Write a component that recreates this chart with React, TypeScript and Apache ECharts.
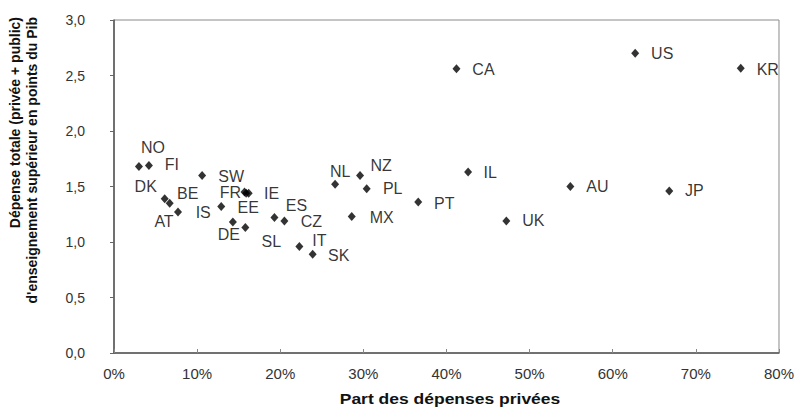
import React, { useEffect, useRef } from "react";
import * as echarts from "echarts";

// Country codes
const countries = [
  "NO", "FI", "DK", "BE", "AT", "SW", "IS", "FR", "EE", "IE", "DE", "SL",
  "ES", "CZ", "IT", "SK", "NL", "NZ", "PL", "MX", "PT", "IL", "CA", "UK",
  "AU", "US", "JP", "KR",
];
// Part des dépenses privées (%)
const privateShare = [
  3.0, 4.2, 6.1, 6.7, 7.7, 10.6, 12.9, 15.7, 15.9, 16.2, 14.3, 15.8,
  19.3, 20.5, 22.3, 23.9, 26.6, 29.6, 30.4, 28.6, 36.6, 42.6, 41.2, 47.2,
  54.9, 62.7, 66.8, 75.4,
];
// Dépense totale en points de PIB
const totalSpending = [
  1.68, 1.69, 1.39, 1.35, 1.27, 1.6, 1.32, 1.45, 1.44, 1.44, 1.18, 1.13,
  1.22, 1.19, 0.96, 0.89, 1.52, 1.6, 1.48, 1.23, 1.36, 1.63, 2.56, 1.19,
  1.5, 2.7, 1.46, 2.565,
];

// label placement (style only)
const labelOffsets: Record<string, [number, number]> = {
  NO: [14, -19], FI: [23, -1], DK: [-19, -12], BE: [18, -10], AT: [-14, 9],
  SW: [29, 1], IS: [-18, 6], FR: [-14, 0], EE: [2, 14], IE: [23, 0],
  DE: [-4, 12], SL: [26, 14], ES: [22, -12], CZ: [27, 1], IT: [20, -6],
  SK: [26, 1], NL: [5, -13], NZ: [21, -10], PL: [26, 0], MX: [30, 1],
  PT: [26, 1], IL: [22, 0], CA: [27, 1], UK: [27, 0], AU: [27, 0],
  US: [27, 0], JP: [25, 0], KR: [27, 1],
};

const xTitle = "Part des dépenses privées";
const yTitle1 = "Dépense totale (privée + public)";
const yTitle2 = "d'enseignement supérieur en points du Pib";

const FONT = "'Liberation Sans', Arial, sans-serif";

export default function App() {
  const ref = useRef<HTMLDivElement>(null);
  useEffect(() => {
    if (!ref.current) return;
    const chart = echarts.init(ref.current, undefined, { renderer: "svg" });
    const data = countries.map((c, i) => ({
      name: c,
      value: [privateShare[i], totalSpending[i]],
      label: { offset: labelOffsets[c] },
    }));
    chart.setOption({
      animation: false,
      backgroundColor: "#ffffff",
      textStyle: { fontFamily: FONT },
      grid: {
        left: 114,
        right: 18,
        top: 20,
        bottom: 60,
        show: true,
        borderColor: "#8a8a8a",
        borderWidth: 1,
        backgroundColor: "transparent",
      },
      xAxis: {
        type: "value",
        min: 0,
        max: 80,
        interval: 10,
        axisLine: { show: true, onZero: false, lineStyle: { color: "#555", width: 1.5 } },
        axisTick: { show: true, inside: true, length: 4, lineStyle: { color: "#888" } },
        splitLine: { show: false },
        axisLabel: {
          margin: 13,
          fontSize: 15,
          color: "#333",
          fontFamily: FONT,
          formatter: (v: number) => `${v}%`,
        },
      },
      yAxis: {
        type: "value",
        min: 0,
        max: 3,
        interval: 0.5,
        axisLine: { show: true, onZero: false, lineStyle: { color: "#555", width: 1.5 } },
        axisTick: { show: true, inside: false, length: 4, lineStyle: { color: "#666" } },
        splitLine: { show: false },
        axisLabel: {
          margin: 29,
          fontSize: 14,
          color: "#333",
          fontFamily: FONT,
          formatter: (v: number) => v.toFixed(1).replace(".", ","),
        },
      },
      graphic: [
        {
          type: "text",
          x: 450,
          y: 399,
          scaleX: 1.25,
          style: {
            text: xTitle,
            textAlign: "center",
            textVerticalAlign: "middle",
            fontSize: 14,
            fontWeight: "bold",
            fill: "#111",
            fontFamily: FONT,
          },
        },
        {
          type: "text",
          x: 15,
          y: 17,
          rotation: Math.PI / 2,
          style: {
            text: yTitle1,
            textAlign: "right",
            textVerticalAlign: "middle",
            fontSize: 14,
            fontWeight: "bold",
            fill: "#111",
            fontFamily: FONT,
          },
        },
        {
          type: "text",
          x: 32,
          y: 17,
          rotation: Math.PI / 2,
          style: {
            text: yTitle2,
            textAlign: "right",
            textVerticalAlign: "middle",
            fontSize: 14,
            fontWeight: "bold",
            fill: "#111",
            fontFamily: FONT,
          },
        },
      ],
      series: [
        {
          type: "scatter",
          symbol: "diamond",
          symbolSize: [8, 9],
          itemStyle: { color: "#000" },
          data,
          label: {
            show: true,
            position: "inside",
            formatter: "{b}",
            fontSize: 16,
            color: "#000",
            fontFamily: FONT,
          },
        },
      ],
    });
    return () => chart.dispose();
  }, []);
  return (
    <div
      ref={ref}
      style={{ position: "fixed", left: 0, top: 0, width: 797, height: 413, background: "#fff" }}
    />
  );
}
